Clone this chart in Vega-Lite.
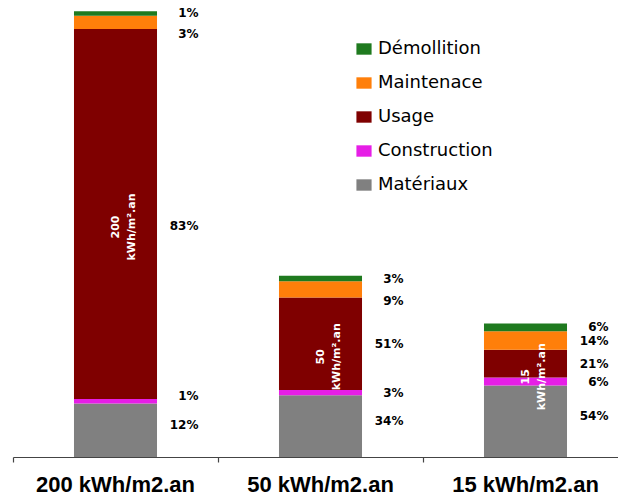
{
  "$schema": "https://vega.github.io/schema/vega-lite/v6.json",
  "width": 605,
  "height": 446,
  "autosize": {"type": "none"},
  "padding": {"left": 13, "top": 11, "right": 0, "bottom": 38},
  "background": "white",
  "config": {"view": {"stroke": null}},
  "data": {
    "values": [
      {"bar": "200 kWh/m2.an", "component": "Matériaux", "rank": 1, "value": 28.9, "pct": 0.12},
      {"bar": "200 kWh/m2.an", "component": "Construction", "rank": 2, "value": 2.4, "pct": 0.01},
      {"bar": "200 kWh/m2.an", "component": "Usage", "rank": 3, "value": 200, "pct": 0.83},
      {"bar": "200 kWh/m2.an", "component": "Maintenace", "rank": 4, "value": 7.2, "pct": 0.03},
      {"bar": "200 kWh/m2.an", "component": "Démollition", "rank": 5, "value": 2.4, "pct": 0.01},
      {"bar": "50 kWh/m2.an", "component": "Matériaux", "rank": 1, "value": 33.3, "pct": 0.34},
      {"bar": "50 kWh/m2.an", "component": "Construction", "rank": 2, "value": 2.9, "pct": 0.03},
      {"bar": "50 kWh/m2.an", "component": "Usage", "rank": 3, "value": 50, "pct": 0.51},
      {"bar": "50 kWh/m2.an", "component": "Maintenace", "rank": 4, "value": 8.8, "pct": 0.09},
      {"bar": "50 kWh/m2.an", "component": "Démollition", "rank": 5, "value": 2.9, "pct": 0.03},
      {"bar": "15 kWh/m2.an", "component": "Matériaux", "rank": 1, "value": 38.6, "pct": 0.54},
      {"bar": "15 kWh/m2.an", "component": "Construction", "rank": 2, "value": 4.3, "pct": 0.06},
      {"bar": "15 kWh/m2.an", "component": "Usage", "rank": 3, "value": 15, "pct": 0.21},
      {"bar": "15 kWh/m2.an", "component": "Maintenace", "rank": 4, "value": 10.0, "pct": 0.14},
      {"bar": "15 kWh/m2.an", "component": "Démollition", "rank": 5, "value": 4.3, "pct": 0.06}
    ]
  },
  "transform": [
    {"stack": "value", "groupby": ["bar"], "sort": [{"field": "rank", "order": "ascending"}], "as": ["v0", "v1"]},
    {"calculate": "(datum.v0 + datum.v1) / 2", "as": "vmid"},
    {"calculate": "datum.value + ' kWh/m².an'", "as": "inside"}
  ],
  "encoding": {
    "x": {
      "field": "bar",
      "type": "nominal",
      "sort": ["200 kWh/m2.an", "50 kWh/m2.an", "15 kWh/m2.an"],
      "scale": {"range": [0, 615], "paddingInner": 0, "paddingOuter": 0},
      "axis": {
        "title": null,
        "bandPosition": 0,
        "labelAngle": 0,
        "labelFont": "Liberation Sans",
        "labelFontWeight": "bold",
        "labelFontSize": 22,
        "labelColor": "black",
        "labelBaseline": "alphabetic",
        "labelPadding": 29,
        "tickSize": 5,
        "tickColor": "#444444",
        "domainColor": "#444444",
        "domainWidth": 1.2,
        "tickWidth": 1.2,
        "grid": false
      }
    }
  },
  "layer": [
    {
      "mark": {"type": "bar", "width": {"band": 0.405}},
      "encoding": {
        "y": {"field": "v1", "type": "quantitative", "scale": {"domain": [0, 241], "nice": false}, "axis": null},
        "y2": {"field": "v0"},
        "color": {
          "field": "component",
          "type": "nominal",
          "scale": {
            "domain": ["Démollition", "Maintenace", "Usage", "Construction", "Matériaux"],
            "range": ["#1f7a1f", "#ff7f0a", "#7f0000", "#e61ee6", "#808080"]
          },
          "legend": {
            "title": null,
            "orient": "none",
            "legendX": 342,
            "legendY": 29,
            "padding": 0,
            "labelFont": "DejaVu Sans",
            "labelFontSize": 18,
            "labelColor": "black",
            "labelOffset": 5,
            "symbolType": "M-1,-0.75H1V0.75H-1Z",
            "symbolSize": 230,
            "symbolStrokeWidth": 0,
            "rowPadding": 16
          }
        }
      }
    },
    {
      "transform": [{"filter": "!(datum.component === 'Matériaux' || (datum.bar === '200 kWh/m2.an' && datum.component !== 'Démollition') || (datum.bar === '50 kWh/m2.an' && datum.component === 'Maintenace'))"}],
      "mark": {"type": "text", "align": "right", "baseline": "middle", "dx": 83, "font": "DejaVu Sans", "fontWeight": "bold", "fontSize": 12, "color": "black"},
      "encoding": {
        "y": {"field": "vmid", "type": "quantitative"},
        "text": {"field": "pct", "type": "quantitative", "format": ".0%"}
      }
    },
    {
      "transform": [{"filter": "datum.component === 'Matériaux' || (datum.bar === '200 kWh/m2.an' && datum.component === 'Construction')"}],
      "mark": {"type": "text", "align": "right", "baseline": "middle", "dx": 83, "dy": -5, "font": "DejaVu Sans", "fontWeight": "bold", "fontSize": 12, "color": "black"},
      "encoding": {
        "y": {"field": "vmid", "type": "quantitative"},
        "text": {"field": "pct", "type": "quantitative", "format": ".0%"}
      }
    },
    {
      "transform": [{"filter": "(datum.bar === '200 kWh/m2.an' && (datum.component === 'Maintenace' || datum.component === 'Usage')) || (datum.bar === '50 kWh/m2.an' && datum.component === 'Maintenace')"}],
      "mark": {"type": "text", "align": "right", "baseline": "middle", "dx": 83, "dy": 12, "font": "DejaVu Sans", "fontWeight": "bold", "fontSize": 12, "color": "black"},
      "encoding": {
        "y": {"field": "vmid", "type": "quantitative"},
        "text": {"field": "pct", "type": "quantitative", "format": ".0%"}
      }
    },
    {
      "transform": [{"filter": "datum.component === 'Usage'"}],
      "mark": {"type": "text", "angle": 270, "align": "center", "baseline": "middle", "lineBreak": " ", "lineHeight": 16, "dx": -13, "font": "DejaVu Sans", "fontWeight": "bold", "fontSize": 11, "color": "white"},
      "encoding": {
        "y": {"field": "vmid", "type": "quantitative"},
        "text": {"field": "inside", "type": "nominal"}
      }
    }
  ]
}
